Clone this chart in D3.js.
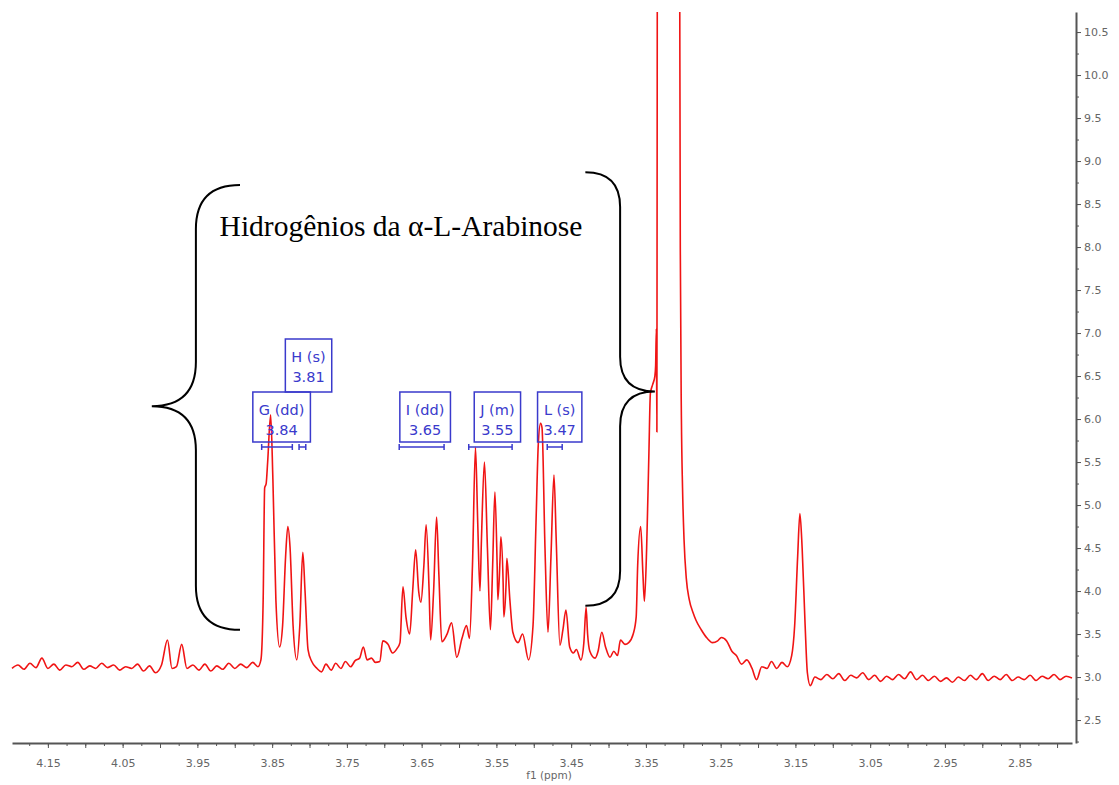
<!DOCTYPE html>
<html>
<head>
<meta charset="utf-8">
<script src="https://cdn.jsdelivr.net/npm/d3@7"></script>
<style>
  body { margin: 0; background: #fff; }
  svg { display: block; }
  .axis text { font-family: "DejaVu Sans", sans-serif; font-size: 11px; fill: #666; }
  .axis path, .axis line { stroke: #555; }
</style>
</head>
<body>
<svg id="chart" width="1119" height="785"></svg>
<script>
const baselineLeft = [
  [4.198,3.10],[4.190,3.14],[4.182,3.09],[4.174,3.16],[4.166,3.11],[4.158,3.22],[4.150,3.10],[4.142,3.15],
  [4.134,3.08],[4.126,3.14],[4.118,3.12],[4.110,3.17],[4.102,3.09],[4.094,3.13],[4.086,3.10],[4.078,3.16],
  [4.070,3.11],[4.062,3.14],[4.054,3.08],[4.046,3.12],[4.038,3.10],[4.030,3.15],[4.022,3.07],[4.014,3.13],
  [4.006,3.05],[3.998,3.14],[3.990,3.43],[3.984,3.10],[3.978,3.12],[3.971,3.38],[3.964,3.10],[3.956,3.14],
  [3.948,3.08],[3.940,3.15],[3.932,3.07],[3.924,3.13],[3.916,3.09],[3.908,3.16],[3.900,3.10],[3.892,3.15],
  [3.884,3.11],[3.876,3.17],[3.869,3.12]
];
const peaksGH = [
  [3.865,3.20],[3.862,3.90],[3.860,5.20],[3.858,5.25],[3.856,5.50],[3.852,6.05],[3.849,5.30],[3.845,3.90],
  [3.840,3.35],[3.836,3.60],[3.832,4.40],[3.829,4.75],[3.826,4.50],[3.822,3.60],[3.817,3.20],[3.813,3.60],
  [3.809,4.45],[3.806,4.00],[3.802,3.32],[3.797,3.18]
];
const baselineMid = [
  [3.790,3.10],[3.784,3.06],[3.778,3.15],[3.771,3.08],[3.765,3.16],[3.758,3.10],[3.752,3.18],[3.745,3.12],
  [3.739,3.19],[3.733,3.22],[3.728,3.35],[3.723,3.20],[3.717,3.22],[3.712,3.17],[3.706,3.18],[3.702,3.42],
  [3.695,3.38],[3.689,3.28],[3.683,3.33]
];
const peaksI = [
  [3.679,3.40],[3.675,4.05],[3.671,3.70],[3.666,3.50],[3.662,4.00],[3.658,4.48],[3.654,4.00],[3.651,3.87],
  [3.647,4.30],[3.644,4.77],[3.640,4.00],[3.638,3.43],[3.634,4.00],[3.630,4.86],[3.627,4.20],[3.623,3.41],
  [3.616,3.50],[3.610,3.63],[3.603,3.23],[3.596,3.45],[3.590,3.60],[3.586,3.45]
];
const peaksJ = [
  [3.582,4.30],[3.578,5.67],[3.575,4.80],[3.572,4.00],[3.570,4.60],[3.566,5.50],[3.562,4.50],[3.558,3.55],
  [3.555,4.30],[3.552,5.15],[3.549,4.30],[3.548,3.90],[3.545,4.40],[3.544,4.63],[3.541,4.10],[3.540,3.70],
  [3.537,4.10],[3.536,4.38],[3.532,3.90],[3.528,3.52],[3.521,3.40],[3.515,3.50],[3.507,3.20],[3.501,3.60]
];
const peaksL = [
  [3.497,4.80],[3.494,5.70],[3.491,5.95],[3.489,5.90],[3.485,4.50],[3.481,3.52],[3.477,4.40],[3.473,5.35],
  [3.470,4.60],[3.465,3.37],[3.461,3.55],[3.457,3.78],[3.452,3.35],[3.447,3.28],[3.443,3.32],[3.437,3.20],
  [3.433,3.40],[3.430,3.81],[3.428,3.50],[3.425,3.30]
];
const solventFoot = [
  [3.418,3.22],[3.414,3.30],[3.409,3.52],[3.404,3.35],[3.398,3.23],[3.393,3.30],[3.388,3.25],[3.384,3.43],
  [3.378,3.38],[3.373,3.40],[3.367,3.50],[3.363,3.70],[3.361,4.30],[3.357,4.75],[3.354,4.20],[3.352,3.88],
  [3.349,4.50],[3.346,5.60],[3.344,6.30],[3.341,6.40],[3.338,6.50],[3.337,6.62],[3.336,7.05],[3.3353,5.85]
];
const solventPeak = [[3.3345,14],[3.320,40],[3.306,14]];
const solventTail = [
  [3.305,12],[3.304,8.0],[3.3025,6.0],[3.301,5.2],[3.299,4.6],[3.296,4.15],[3.292,3.90],[3.287,3.75],
  [3.283,3.66],[3.276,3.55],[3.268,3.45],[3.261,3.40],[3.254,3.42],[3.249,3.46],[3.242,3.42],[3.235,3.30],
  [3.229,3.25],[3.222,3.15],[3.215,3.20],[3.208,3.10],[3.202,2.97],[3.195,3.12],[3.188,3.10],[3.182,3.18],
  [3.175,3.10],[3.168,3.17],[3.161,3.12],[3.155,3.25]
];
const peak315 = [
  [3.151,3.60],[3.147,4.40],[3.144,4.90],[3.141,4.50],[3.137,3.60],[3.134,3.05],[3.130,2.90],[3.124,3.00]
];
const baselineRight = [
  [3.116,2.97],[3.108,3.03],[3.100,2.98],[3.092,3.04],[3.084,2.96],[3.076,3.02],[3.068,2.99],[3.060,3.05],
  [3.052,2.97],[3.044,3.02],[3.036,2.95],[3.028,3.01],[3.020,2.97],[3.012,3.03],[3.004,2.98],[2.996,3.06],
  [2.988,2.97],[2.980,3.02],[2.972,2.96],[2.964,3.01],[2.956,2.95],[2.948,2.99],[2.940,2.94],[2.932,3.00],
  [2.924,2.96],[2.916,3.02],[2.908,2.97],[2.900,3.04],[2.892,2.96],[2.884,3.01],[2.876,2.97],[2.868,3.03],
  [2.860,2.96],[2.852,3.00],[2.844,2.97],[2.836,3.02],[2.828,2.96],[2.820,3.01],[2.812,2.98],[2.804,3.03],
  [2.796,2.97],[2.788,3.01],[2.780,2.99]
];

// tick labels
const xTickLabels = ['4.15','4.05','3.95','3.85','3.75','3.65','3.55','3.45','3.35','3.25','3.15','3.05','2.95','2.85'];
const yTickLabels = ['2.5','3.0','3.5','4.0','4.5','5.0','5.5','6.0','6.5','7.0','7.5','8.0','8.5','9.0','9.5','10.0','10.5'];

// multiplet annotations
const annLabel = ['G (dd)', 'H (s)', 'I (dd)', 'J (m)', 'L (s)'];
const annShift = [3.84, 3.81, 3.65, 3.55, 3.47];
const annFrom  = [3.864, 3.814, 3.680, 3.587, 3.482];
const annTo    = [3.823, 3.805, 3.620, 3.529, 3.462];

// layout of the boxes (pixels, not data)
const boxDx = [2, 6.5, 3.5, 1, 3.5];
const boxRow = [0, 1, 0, 0, 0];

const spectrum = [].concat(baselineLeft, peaksGH, baselineMid, peaksI, peaksJ, peaksL,
  solventFoot, solventPeak, solventTail, peak315, baselineRight);

const svg = d3.select('#chart');
svg.append('rect').attr('width', 1119).attr('height', 785).attr('fill', '#fff');

const x = d3.scaleLinear().domain([4.198, 2.780]).range([12, 1072]);
const y = d3.scaleLinear().domain([2.233, 10.733]).range([743, 12]);

// axes
const xMinor = d3.range(0, 57).map(i => +(4.175 - i * 0.025).toFixed(3)).filter(v => v <= 4.198 && v >= 2.78);
const xMajor = xMinor.filter(v => Math.abs(Math.round(v * 20) - v * 20) < 1e-6);

svg.append('g').attr('class', 'axis').attr('transform', 'translate(0,743)')
  .call(d3.axisBottom(x).tickValues(xMinor).tickSize(3).tickSizeOuter(0).tickFormat(''))
  .call(g => g.select('.domain').attr('stroke-width', 2).attr('stroke', '#444'));

svg.append('g').attr('class', 'axis').attr('transform', 'translate(0,743)')
  .call(d3.axisBottom(x).tickValues(xMajor).tickSize(5).tickSizeOuter(0).tickPadding(11)
    .tickFormat(d => { const s = d.toFixed(2); return xTickLabels.includes(s) ? s : ''; }))
  .call(g => g.select('.domain').remove());

svg.append('text')
  .attr('x', 549).attr('y', 779)
  .attr('text-anchor', 'middle')
  .attr('font-family', 'DejaVu Sans, sans-serif').attr('font-size', 10.5).attr('fill', '#666')
  .text('f1 (ppm)');

const yMinor = d3.range(0, 35).map(i => 2.25 + i * 0.25).filter(v => v <= 10.733);
svg.append('g').attr('class', 'axis').attr('transform', 'translate(1076,0)')
  .call(d3.axisRight(y).tickValues(yMinor).tickSize(3).tickSizeOuter(0).tickFormat(''))
  .call(g => g.select('.domain').attr('stroke-width', 2).attr('stroke', '#666'));

svg.append('g').attr('class', 'axis').attr('transform', 'translate(1076,0)')
  .call(d3.axisRight(y).tickValues(yTickLabels.map(Number)).tickSize(5).tickSizeOuter(0).tickPadding(3)
    .tickFormat((d, i) => yTickLabels[i]))
  .call(g => g.select('.domain').remove());

// spectrum
svg.append('clipPath').attr('id', 'plot-clip')
  .append('rect').attr('x', 0).attr('y', 12).attr('width', 1076).attr('height', 731);

const line = d3.line().x(d => x(d[0])).y(d => y(d[1])).curve(d3.curveMonotoneX);
svg.append('path')
  .datum(spectrum)
  .attr('clip-path', 'url(#plot-clip)')
  .attr('d', line)
  .attr('fill', 'none')
  .attr('stroke', '#f01414')
  .attr('stroke-width', 1.6)
  .attr('stroke-linejoin', 'round');

// annotation boxes
const blue = '#3a3acc';
const annG = svg.append('g');
const rowTop = [392, 339];
annLabel.forEach((lab, i) => {
  const cx = x(annShift[i]) + boxDx[i];
  const top = rowTop[boxRow[i]];
  const h = boxRow[i] === 0 ? 50 : 53;
  const g = annG.append('g');
  const t1 = g.append('text').attr('x', cx).attr('y', top + 23).text(lab);
  const t2 = g.append('text').attr('x', cx).attr('y', top + 43).text(annShift[i].toFixed(2));
  g.selectAll('text')
    .attr('text-anchor', 'middle')
    .attr('font-family', 'DejaVu Sans, sans-serif')
    .attr('font-size', 14.5)
    .attr('fill', blue);
  const w = Math.max(t1.node().getComputedTextLength(), t2.node().getComputedTextLength()) + 12;
  g.insert('rect', 'text')
    .attr('x', cx - w / 2).attr('y', top).attr('width', w).attr('height', h)
    .attr('fill', 'none').attr('stroke', blue).attr('stroke-width', 1.5);

  // multiplet range bar
  const by = 447;
  const x0 = x(annFrom[i]), x1 = x(annTo[i]);
  g.append('line').attr('x1', x0).attr('x2', x1).attr('y1', by).attr('y2', by)
    .attr('stroke', blue).attr('stroke-width', 1.5);
  [x0, x1].forEach(xx => g.append('line').attr('x1', xx).attr('x2', xx).attr('y1', by - 3).attr('y2', by + 3)
    .attr('stroke', blue).attr('stroke-width', 1.5));
});

// curly braces
function bracePath(xEnd, xTip, yTop, yBot, yTip) {
  const xs = (xEnd + xTip) / 2;
  const r = Math.abs(xEnd - xs);
  return `M${xEnd},${yTop} Q${xs},${yTop} ${xs},${yTop + r} L${xs},${yTip - r} Q${xs},${yTip} ${xTip},${yTip}` +
    ` Q${xs},${yTip} ${xs},${yTip + r} L${xs},${yBot - r} Q${xs},${yBot} ${xEnd},${yBot}`;
}
svg.append('path')
  .attr('d', bracePath(x(3.893), x(4.011), y(8.72), y(3.55), y(6.15)))
  .attr('fill', 'none').attr('stroke', '#000').attr('stroke-width', 2);
svg.append('path')
  .attr('d', bracePath(x(3.431), x(3.338), y(8.87), y(3.83), y(6.32)))
  .attr('fill', 'none').attr('stroke', '#000').attr('stroke-width', 2);

svg.append('text')
  .attr('x', 401).attr('y', 236)
  .attr('text-anchor', 'middle')
  .attr('font-family', 'Liberation Serif, Times New Roman, serif')
  .attr('font-size', 29.5)
  .attr('fill', '#000')
  .text('Hidrogênios da α-L-Arabinose');
</script>
</body>
</html>
